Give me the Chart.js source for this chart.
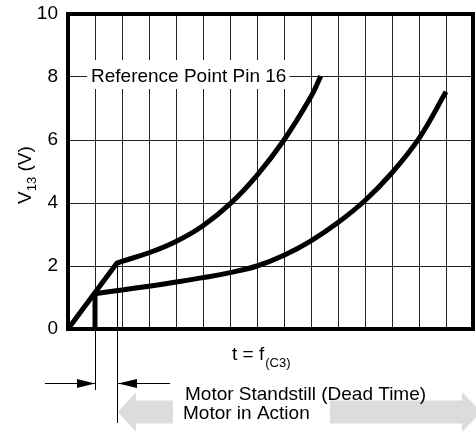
<!DOCTYPE html>
<html>
<head>
<meta charset="utf-8">
<script src="https://cdn.jsdelivr.net/npm/chart.js@4"></script>
<style>
  html, body { margin: 0; padding: 0; background: #fff; }
  #chart { display: block; }
</style>
</head>
<body>
<canvas id="chart" width="476" height="432"></canvas>
<script>
// values (t in grid divisions, V13 in volts)
const rampT = [0, 1.8];
const rampV = [0, 2.08];
const deadT = [1, 1];
const deadV = [0, 1.12];
const upperT = [1.8, 2, 3, 4, 5, 6, 7, 8, 9, 9.36];
const upperV = [2.08, 2.15, 2.42, 2.78, 3.28, 3.97, 4.88, 6.0, 7.38, 8.03];
const lowerT = [1, 2, 3, 4, 5, 6, 7, 8, 9, 10, 11, 12, 13, 14];
const lowerV = [1.12, 1.24, 1.36, 1.49, 1.63, 1.79, 2.0, 2.34, 2.8, 3.38, 4.08, 4.96, 6.05, 7.53];
const yTicks = [0, 2, 4, 6, 8, 10];
const refLevel = 8;

const FONT = '"Liberation Sans", Arial, Helvetica, sans-serif';

function pts(xs, ys) {
  return xs.map((x, i) => ({ x: x, y: ys[i] }));
}

function line(xs, ys, opts) {
  return Object.assign({
    data: pts(xs, ys),
    borderColor: '#000',
    borderWidth: 5,
    pointRadius: 0,
    fill: false,
    tension: 0,
    borderCapStyle: 'butt'
  }, opts || {});
}

function arrowHead(ctx, tipX, y, dir, len, half) {
  ctx.beginPath();
  ctx.moveTo(tipX, y);
  ctx.lineTo(tipX - dir * len, y - half);
  ctx.lineTo(tipX - dir * len, y + half);
  ctx.closePath();
  ctx.fill();
}

function greyArrow(ctx, tipX, baseX, tailX, cy) {
  ctx.beginPath();
  ctx.moveTo(tailX, cy - 11.5);
  ctx.lineTo(baseX, cy - 11.5);
  ctx.lineTo(baseX, cy - 20);
  ctx.lineTo(tipX, cy);
  ctx.lineTo(baseX, cy + 20);
  ctx.lineTo(baseX, cy + 11.5);
  ctx.lineTo(tailX, cy + 11.5);
  ctx.closePath();
  ctx.fill();
}

const decor = {
  id: 'decor',
  beforeDatasetsDraw(chart) {
    const ctx = chart.ctx;
    const y8 = chart.scales.y.getPixelForValue(refLevel);
    ctx.save();
    ctx.font = '19px ' + FONT;
    const label = 'Reference Point Pin 16';
    const w = ctx.measureText(label).width;
    ctx.fillStyle = '#fff';
    ctx.fillRect(87, y8 - 17, w + 7, 29);
    ctx.fillStyle = '#000';
    ctx.textBaseline = 'alphabetic';
    ctx.fillText(label, 91, y8 + 5);
    ctx.restore();
  },
  afterDraw(chart) {
    const ctx = chart.ctx;
    const a = chart.chartArea;
    const xs = chart.scales.x;
    const ys = chart.scales.y;
    ctx.save();

    // heavy frame
    ctx.strokeStyle = '#000';
    ctx.lineWidth = 4;
    ctx.strokeRect(a.left, a.top, a.right - a.left, a.bottom - a.top);

    // dead time markers
    const x1 = Math.round(xs.getPixelForValue(deadT[0])) + 0.5;
    const x2 = Math.round(xs.getPixelForValue(rampT[1])) + 0.5;
    const kneeY = ys.getPixelForValue(rampV[1]);
    ctx.lineWidth = 1;
    ctx.beginPath();
    ctx.moveTo(x1, a.bottom);
    ctx.lineTo(x1, 390);
    ctx.moveTo(x2, kneeY);
    ctx.lineTo(x2, 423);
    ctx.moveTo(45, 383.5);
    ctx.lineTo(x1, 383.5);
    ctx.moveTo(x2, 383.5);
    ctx.lineTo(170, 383.5);
    ctx.stroke();
    ctx.fillStyle = '#000';
    arrowHead(ctx, x1 - 0.5, 383.5, 1, 18, 4.5);
    arrowHead(ctx, x2 + 0.5, 383.5, -1, 19, 4.5);

    // grey arrows
    ctx.fillStyle = '#dcdcdc';
    greyArrow(ctx, x2 + 0.5, 136, 173, 412);
    greyArrow(ctx, 481, 462, 330, 412);

    // texts
    ctx.fillStyle = '#000';
    ctx.textBaseline = 'alphabetic';
    ctx.font = '19px ' + FONT;
    ctx.fillText('Motor Standstill (Dead Time)', 185, 400);
    ctx.fillText('Motor in Action', 183, 419);

    // x title: t = f(C3)
    ctx.fillText('t = f', 232, 360);
    const tw = ctx.measureText('t = f').width;
    ctx.font = '13px ' + FONT;
    ctx.fillText('(C3)', 232 + tw + 1, 367);

    // y title: V13 (V)
    ctx.translate(31, 204);
    ctx.rotate(-Math.PI / 2);
    ctx.font = '19px ' + FONT;
    ctx.fillText('V', 0, 0);
    let off = ctx.measureText('V').width;
    ctx.font = '13px ' + FONT;
    ctx.fillText('13', off, 5);
    off += ctx.measureText('13').width;
    ctx.font = '19px ' + FONT;
    ctx.fillText(' (V)', off, 0);
    ctx.restore();
  }
};

new Chart(document.getElementById('chart'), {
  type: 'line',
  data: {
    datasets: [
      line(rampT, rampV, { borderCapStyle: 'round' }),
      line(deadT, deadV),
      line(upperT, upperV, { tension: 0.4 }),
      line(lowerT, lowerV, { tension: 0.4 })
    ]
  },
  options: {
    responsive: false,
    animation: false,
    events: [],
    layout: { padding: { left: 0, top: 14, right: 3, bottom: 0 } },
    plugins: {
      legend: { display: false },
      tooltip: { enabled: false }
    },
    scales: {
      x: {
        type: 'linear',
        min: 0,
        max: 15,
        ticks: { display: false, stepSize: 1 },
        grid: { color: '#222', lineWidth: 1, drawTicks: false },
        border: { display: false },
        afterFit(s) { s.height = 103; }
      },
      y: {
        min: 0,
        max: 10,
        afterBuildTicks(s) { s.ticks = yTicks.map(v => ({ value: v })); },
        ticks: {
          color: '#000',
          padding: 10,
          font: { family: FONT, size: 19 }
        },
        grid: { color: '#222', lineWidth: 1, drawTicks: false },
        border: { display: false },
        afterFit(s) {
          s.width = 68;
          s.paddingTop = 0;
          s.paddingBottom = 0;
        }
      }
    }
  },
  plugins: [decor]
});
</script>
</body>
</html>
